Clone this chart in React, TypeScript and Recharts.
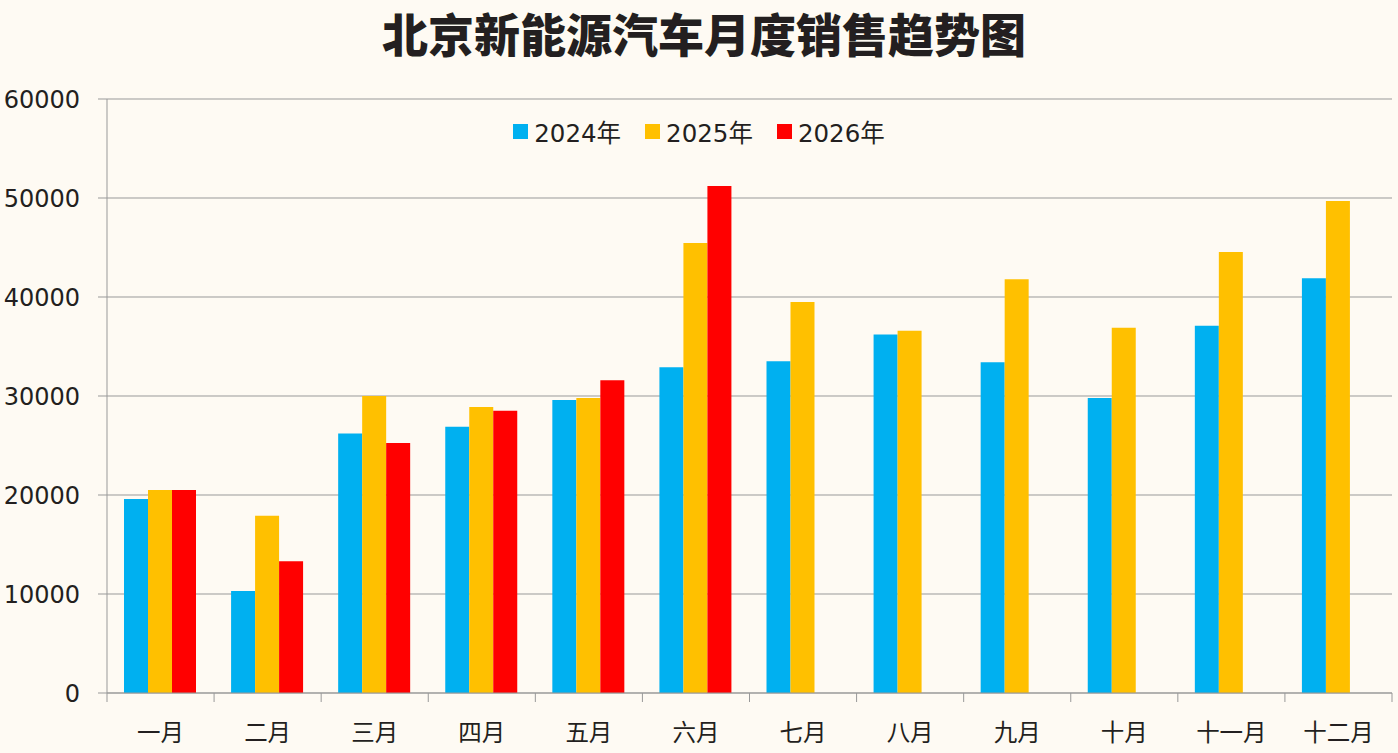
import React from "react";
import {
  BarChart,
  Bar,
  XAxis,
  YAxis,
  CartesianGrid,
  Legend,
} from "recharts";

const months = ["一月", "二月", "三月", "四月", "五月", "六月", "七月", "八月", "九月", "十月", "十一月", "十二月"];
const sales2024 = [19600, 10300, 26200, 26900, 29600, 32900, 33500, 36200, 33400, 29800, 37100, 41900];
const sales2025 = [20500, 17900, 30000, 28900, 29800, 45450, 39500, 36600, 41800, 36900, 44550, 49700];
const sales2026 = [20500, 13300, 25250, 28500, 31600, 51200, null, null, null, null, null, null];
const yTicks = [0, 10000, 20000, 30000, 40000, 50000, 60000];

const seriesNames = ["2024年", "2025年", "2026年"];
const seriesColors = ["#00B0F0", "#FFC000", "#FF0000"];

const data = months.map((m, i) => ({
  month: m,
  y2024: sales2024[i],
  y2025: sales2025[i],
  y2026: sales2026[i],
}));

const W = 1398;
const H = 753;
const LEFT = 107;
const RIGHT = 6;
const PLOT_W = W - LEFT - RIGHT;
const TEXT = "#231F20";
const GRID = "#999999";
const FONT = '"DejaVu Sans", "Noto Sans CJK SC", sans-serif';

const XTick = (props: any) => {
  const { x, y, payload, index } = props;
  const bw = PLOT_W / months.length;
  return (
    <g>
      <line x1={x - bw / 2} y1={y} x2={x - bw / 2} y2={y + 9} stroke={GRID} />
      {index === months.length - 1 && (
        <line x1={x + bw / 2} y1={y} x2={x + bw / 2} y2={y + 9} stroke={GRID} />
      )}
      <text
        x={x}
        y={y + 40}
        textAnchor="middle"
        dominantBaseline="central"
        fill={TEXT}
        fontSize={23.5}
        fontFamily={FONT}
      >
        {payload.value}
      </text>
    </g>
  );
};

const LegendBox = () => (
  <div
    style={{
      display: "flex",
      justifyContent: "center",
      alignItems: "center",
      gap: 24,
      fontFamily: FONT,
      fontSize: 24.5,
      color: TEXT,
    }}
  >
    {seriesNames.map((n, i) => (
      <div key={n} style={{ display: "flex", alignItems: "center" }}>
        <span
          style={{
            display: "inline-block",
            width: 15,
            height: 15,
            background: seriesColors[i],
            marginRight: 6,
          }}
        />
        <span>{n}</span>
      </div>
    ))}
  </div>
);

export default function App() {
  return (
    <div style={{ position: "relative", width: W, height: H, background: "#FEFAF3" }}>
      <style>{`body{margin:0}`}</style>
      <div
        style={{
          position: "absolute",
          top: 9,
          left: 0,
          width: W,
          boxSizing: "border-box",
          paddingLeft: 10,
          textAlign: "center",
          fontFamily: '"Noto Sans CJK SC", sans-serif',
          fontWeight: 900,
          fontSize: 46,
          lineHeight: "46px",
          color: TEXT,
          zIndex: 2,
        }}
      >
        北京新能源汽车月度销售趋势图
      </div>
      <BarChart
        width={W}
        height={H}
        data={data}
        margin={{ top: 99, right: RIGHT, left: 0, bottom: 0 }}
        barCategoryGap={17}
        barGap={0}
      >
        <CartesianGrid vertical={false} stroke={GRID} />
        <XAxis
          dataKey="month"
          height={60}
          tickSize={0}
          tickMargin={0}
          tickLine={false}
          axisLine={{ stroke: GRID }}
          tick={<XTick />}
          interval={0}
        />
        <YAxis
          width={LEFT}
          domain={[0, 60000]}
          ticks={yTicks}
          tickSize={9}
          tickMargin={18}
          axisLine={{ stroke: GRID }}
          tickLine={{ stroke: GRID }}
          tick={{ fill: TEXT, fontSize: 24, fontFamily: FONT }}
        />
        <Legend
          layout="horizontal"
          verticalAlign="middle"
          align="center"
          content={<LegendBox />}
          wrapperStyle={{ top: 114, left: 0, width: W, height: 30 }}
        />
        <Bar dataKey="y2024" name={seriesNames[0]} fill={seriesColors[0]} isAnimationActive={false} />
        <Bar dataKey="y2025" name={seriesNames[1]} fill={seriesColors[1]} isAnimationActive={false} />
        <Bar dataKey="y2026" name={seriesNames[2]} fill={seriesColors[2]} isAnimationActive={false} />
      </BarChart>
    </div>
  );
}
